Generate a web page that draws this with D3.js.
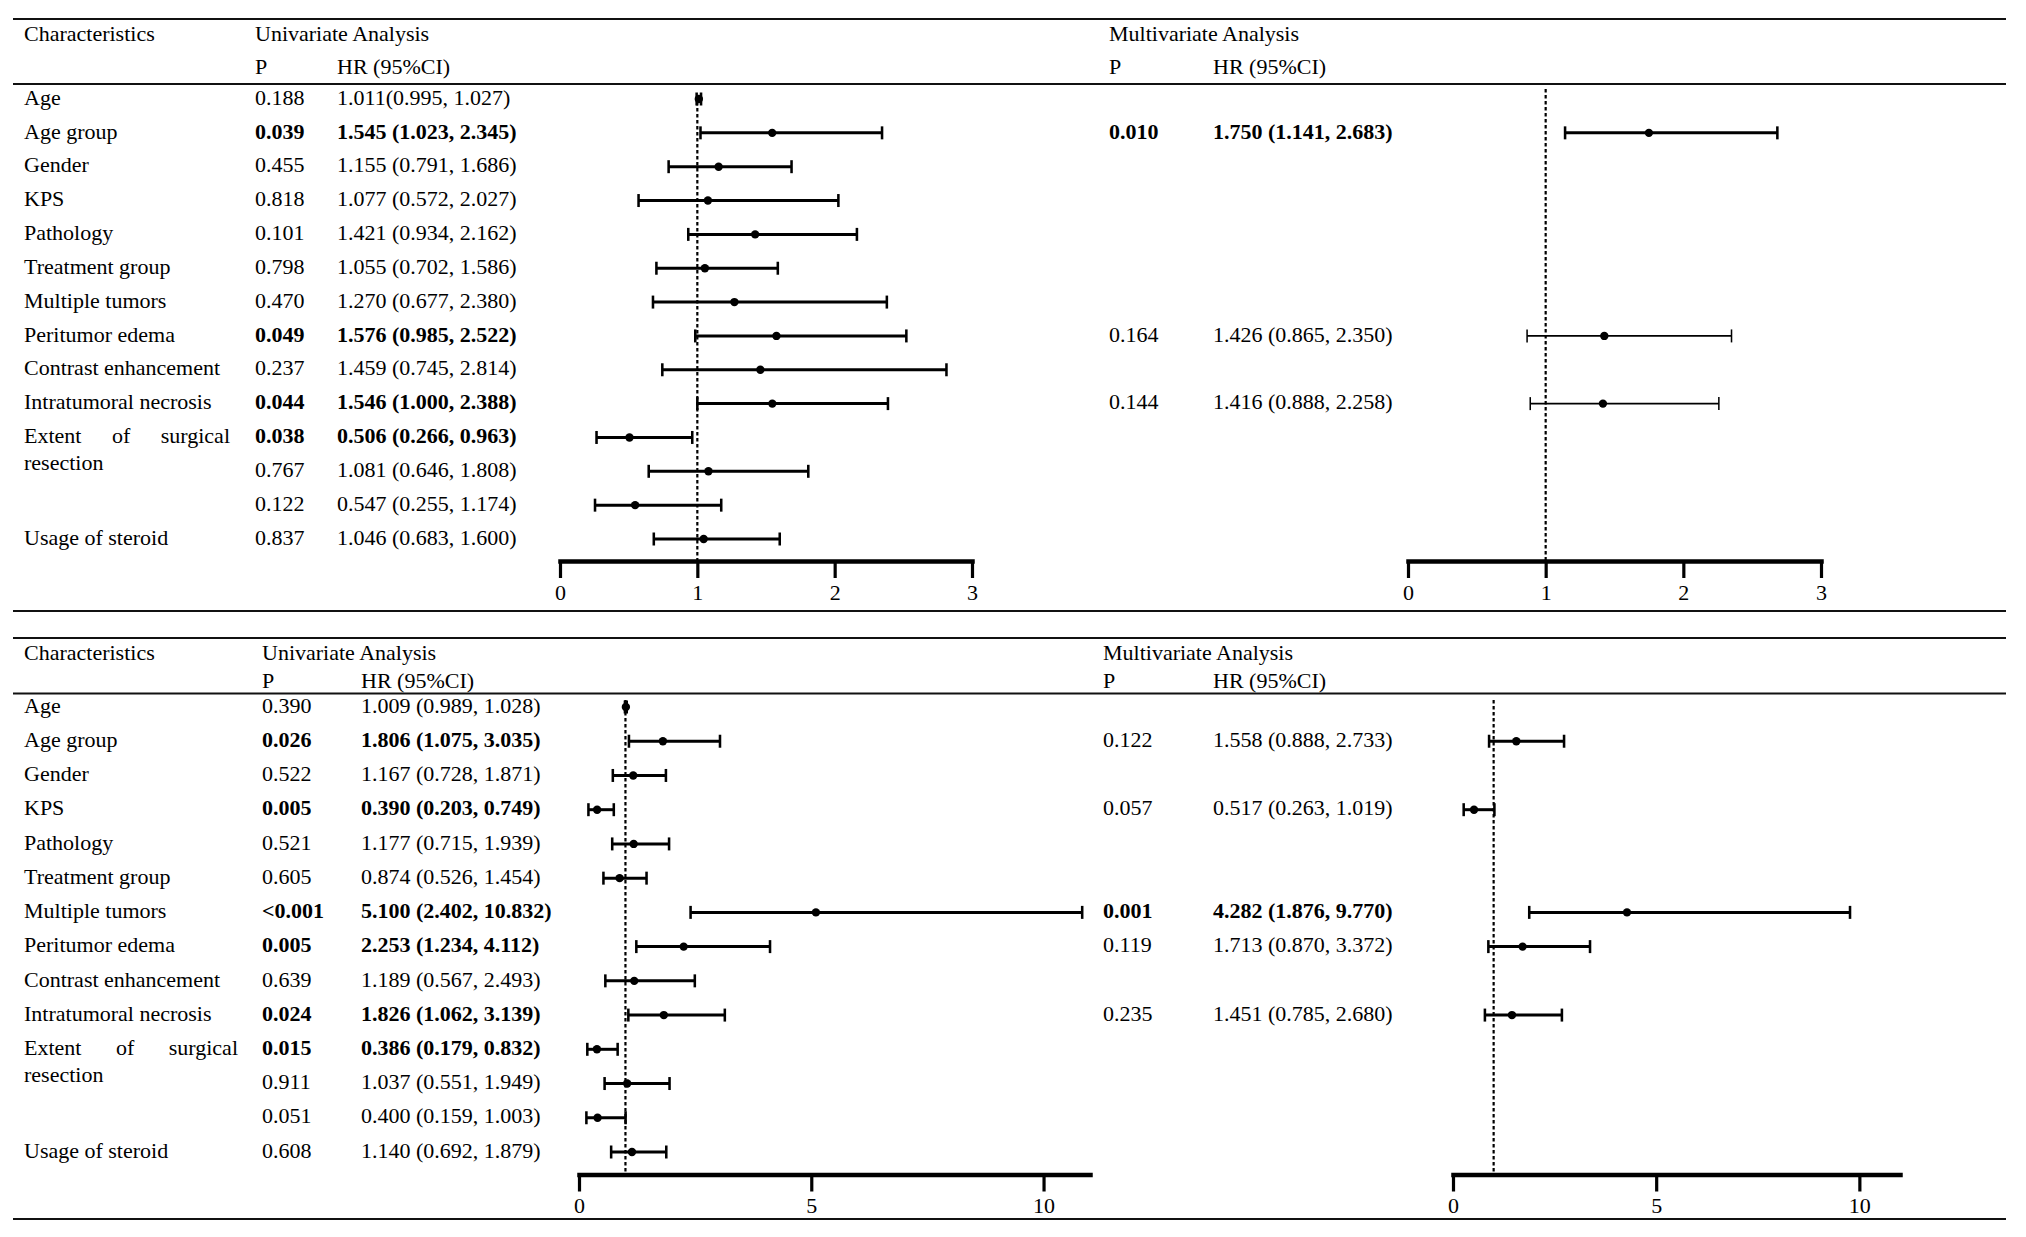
<!DOCTYPE html>
<html>
<head>
<meta charset="utf-8">
<script src="https://cdn.jsdelivr.net/npm/d3@7"></script>
<style>
  body { margin: 0; background: #fff; }
  svg text { font-family: "Liberation Serif", "Times New Roman", serif; fill: #000; }
</style>
</head>
<body>
<div id="chart"></div>
<script>
// ---- data ----
var characteristics = ["Age", "Age group", "Gender", "KPS", "Pathology", "Treatment group",
  "Multiple tumors", "Peritumor edema", "Contrast enhancement", "Intratumoral necrosis",
  "Extent of surgical resection", "", "", "Usage of steroid"];

// top table
var uniP1  = ["0.188", "0.039", "0.455", "0.818", "0.101", "0.798", "0.470", "0.049", "0.237", "0.044", "0.038", "0.767", "0.122", "0.837"];
var uniHR1 = [1.011, 1.545, 1.155, 1.077, 1.421, 1.055, 1.270, 1.576, 1.459, 1.546, 0.506, 1.081, 0.547, 1.046];
var uniLo1 = [0.995, 1.023, 0.791, 0.572, 0.934, 0.702, 0.677, 0.985, 0.745, 1.000, 0.266, 0.646, 0.255, 0.683];
var uniHi1 = [1.027, 2.345, 1.686, 2.027, 2.162, 1.586, 2.380, 2.522, 2.814, 2.388, 0.963, 1.808, 1.174, 1.600];

var mulP1  = [null, "0.010", null, null, null, null, null, "0.164", null, "0.144", null, null, null, null];
var mulHR1 = [null, 1.750, null, null, null, null, null, 1.426, null, 1.416, null, null, null, null];
var mulLo1 = [null, 1.141, null, null, null, null, null, 0.865, null, 0.888, null, null, null, null];
var mulHi1 = [null, 2.683, null, null, null, null, null, 2.350, null, 2.258, null, null, null, null];

// bottom table
var uniP2  = ["0.390", "0.026", "0.522", "0.005", "0.521", "0.605", "<0.001", "0.005", "0.639", "0.024", "0.015", "0.911", "0.051", "0.608"];
var uniHR2 = [1.009, 1.806, 1.167, 0.390, 1.177, 0.874, 5.100, 2.253, 1.189, 1.826, 0.386, 1.037, 0.400, 1.140];
var uniLo2 = [0.989, 1.075, 0.728, 0.203, 0.715, 0.526, 2.402, 1.234, 0.567, 1.062, 0.179, 0.551, 0.159, 0.692];
var uniHi2 = [1.028, 3.035, 1.871, 0.749, 1.939, 1.454, 10.832, 4.112, 2.493, 3.139, 0.832, 1.949, 1.003, 1.879];

var mulP2  = [null, "0.122", null, "0.057", null, null, "0.001", "0.119", null, "0.235", null, null, null, null];
var mulHR2 = [null, 1.558, null, 0.517, null, null, 4.282, 1.713, null, 1.451, null, null, null, null];
var mulLo2 = [null, 0.888, null, 0.263, null, null, 1.876, 0.870, null, 0.785, null, null, null, null];
var mulHi2 = [null, 2.733, null, 1.019, null, null, 9.770, 3.372, null, 2.680, null, null, null, null];

var ticks1 = [0, 1, 2, 3];
var ticks2 = [0, 5, 10];

var W = 2026, H = 1237;
var FONT = 22;
var fmt = d3.format(".3f");

var svg = d3.select("#chart").append("svg")
    .attr("width", W)
    .attr("height", H);

function rows(p, hr, lo, hi) {
    return characteristics.map(function(c, i) {
        return {i: i, p: p[i], hr: hr[i], lo: lo[i], hi: hi[i]};
    });
}

function isSig(p) {
    return p !== null && parseFloat(p.replace("<", "")) < 0.05;
}

function hrText(d, tight) {
    return fmt(d.hr) + (tight ? "" : " ") + "(" + fmt(d.lo) + ", " + fmt(d.hi) + ")";
}

function rule(g, y) {
    g.append("line")
	.attr("x1", 13).attr("x2", 2006)
	.attr("y1", y).attr("y2", y)
	.attr("stroke", "#111")
	.attr("stroke-width", 2.2);
}

// one forest column: texts + whiskers + reference line + axis
function drawForest(parent, data, L, col, opt) {
    var g = parent.append("g").attr("class", "forest");
    var x = d3.scaleLinear().domain(opt.domain).range(col.range);
    var y = L.y;
    var shown = data.filter(function(d) { return d.p !== null; });

    g.selectAll("text.p")
	.data(shown).enter().append("text")
	.attr("class", "p")
	.attr("x", col.px)
	.attr("y", function(d) { return y(d.i) - 2; })
	.attr("dy", "0.35em")
	.attr("font-size", FONT)
	.attr("font-weight", function(d) { return isSig(d.p) ? "bold" : "normal"; })
	.text(function(d) { return d.p; });

    g.selectAll("text.hr")
	.data(shown).enter().append("text")
	.attr("class", "hr")
	.attr("x", col.hrx)
	.attr("y", function(d) { return y(d.i) - 2; })
	.attr("dy", "0.35em")
	.attr("font-size", FONT)
	.attr("font-weight", function(d) { return isSig(d.p) ? "bold" : "normal"; })
	.text(function(d) { return hrText(d, opt.tight && opt.tight.indexOf(d.i) >= 0); });

    // reference line at HR = 1
    g.append("line")
	.attr("x1", x(1)).attr("x2", x(1))
	.attr("y1", col.refTop).attr("y2", L.axisY)
	.attr("stroke", "#000")
	.attr("stroke-width", 2.2)
	.attr("stroke-dasharray", "3.5,2.5");

    var sw = function(d) { return (opt.thin && !isSig(d.p)) ? 1.8 : 3; };
    var mark = g.selectAll("g.ci")
	.data(shown).enter().append("g")
	.attr("class", "ci");

    mark.append("line")
	.attr("x1", function(d) { return x(d.lo); })
	.attr("x2", function(d) { return x(d.hi); })
	.attr("y1", function(d) { return y(d.i); })
	.attr("y2", function(d) { return y(d.i); })
	.attr("stroke", "#000")
	.attr("stroke-width", sw);

    ["lo", "hi"].forEach(function(k) {
	mark.append("line")
	    .attr("x1", function(d) { return x(d[k]); })
	    .attr("x2", function(d) { return x(d[k]); })
	    .attr("y1", function(d) { return y(d.i) - 6.5; })
	    .attr("y2", function(d) { return y(d.i) + 6.5; })
	    .attr("stroke", "#000")
	    .attr("stroke-width", function(d) { return sw(d) * 0.85; });
    });

    mark.append("circle")
	.attr("cx", function(d) { return x(d.hr); })
	.attr("cy", function(d) { return y(d.i); })
	.attr("r", 4.2)
	.attr("fill", "#000");

    var axis = d3.axisBottom(x)
	.tickValues(opt.ticks)
	.tickFormat(d3.format("d"))
	.tickSizeInner(17)
	.tickSizeOuter(0)
	.tickPadding(6);

    var ax = g.append("g")
	.attr("transform", "translate(0," + L.axisY + ")")
	.call(axis);
    ax.select(".domain")
	.attr("stroke", "#000")
	.attr("stroke-width", 4.5)
	.attr("stroke-linecap", "square");
    ax.selectAll(".tick line")
	.attr("stroke", "#000")
	.attr("stroke-width", 3.2);
    ax.selectAll(".tick text")
	.attr("font-family", "Liberation Serif, Times New Roman, serif")
	.attr("font-size", FONT)
	.attr("fill", "#000");
}

function drawPanel(L, uni, mul) {
    var g = svg.append("g").attr("class", "panel");
    L.y = d3.scaleLinear().domain([0, characteristics.length - 1]).range(L.rowRange);

    rule(g, L.top);
    rule(g, L.mid);
    rule(g, L.bottom);

    // headers
    var head = [
	{x: L.labelX, y: L.h1, t: "Characteristics"},
	{x: L.uni.px, y: L.h1, t: "Univariate Analysis"},
	{x: L.uni.px, y: L.h2, t: "P"},
	{x: L.uni.hrx, y: L.h2, t: "HR (95%CI)"},
	{x: L.mul.px, y: L.h1, t: "Multivariate Analysis"},
	{x: L.mul.px, y: L.h2, t: "P"},
	{x: L.mul.hrx, y: L.h2, t: "HR (95%CI)"}
    ];
    g.selectAll("text.head")
	.data(head).enter().append("text")
	.attr("class", "head")
	.attr("x", function(d) { return d.x; })
	.attr("y", function(d) { return d.y; })
	.attr("dy", "0.35em")
	.attr("font-size", FONT)
	.text(function(d) { return d.t; });

    // row labels ("Extent of surgical resection" wraps onto two justified lines)
    characteristics.forEach(function(c, i) {
	if (!c) return;
	var yy = L.y(i) - 2;
	if (c.indexOf("Extent") === 0) {
	    var words = ["Extent", "of", "surgical"];
	    var t = g.selectAll("text.just" + i)
		.data(words).enter().append("text")
		.attr("y", yy).attr("dy", "0.35em")
		.attr("font-size", FONT)
		.text(function(d) { return d; });
	    var widths = t.nodes().map(function(n) { return n.getComputedTextLength(); });
	    var gap = (L.justify - d3.sum(widths)) / (words.length - 1);
	    var pos = L.labelX;
	    t.attr("x", function(d, k) {
		var px = pos;
		pos += widths[k] + gap;
		return px;
	    });
	    g.append("text")
		.attr("x", L.labelX).attr("y", yy + 27).attr("dy", "0.35em")
		.attr("font-size", FONT)
		.text("resection");
	} else {
	    g.append("text")
		.attr("x", L.labelX).attr("y", yy).attr("dy", "0.35em")
		.attr("font-size", FONT)
		.text(c);
	}
    });

    drawForest(g, uni, L, L.uni, L.uniOpt);
    drawForest(g, mul, L, L.mul, L.mulOpt);
}

drawPanel({
    top: 19, mid: 84, bottom: 611,
    h1: 33, h2: 66,
    rowRange: [99, 539],
    axisY: 561,
    labelX: 24, justify: 206,
    uni: {px: 255, hrx: 337, range: [560, 972], refTop: 96},
    mul: {px: 1109, hrx: 1213, range: [1408, 1821], refTop: 89},
    uniOpt: {domain: [0, 3], ticks: ticks1, tight: [0]},
    mulOpt: {domain: [0, 3], ticks: ticks1, thin: true}
}, rows(uniP1, uniHR1, uniLo1, uniHi1), rows(mulP1, mulHR1, mulLo1, mulHi1));

drawPanel({
    top: 638, mid: 693.5, bottom: 1219,
    h1: 652, h2: 680,
    rowRange: [707, 1152],
    axisY: 1174.5,
    labelX: 24, justify: 214,
    uni: {px: 262, hrx: 361, range: [579, 1090], refTop: 700},
    mul: {px: 1103, hrx: 1213, range: [1453, 1900], refTop: 700},
    uniOpt: {domain: [0, 11], ticks: ticks2},
    mulOpt: {domain: [0, 11], ticks: ticks2}
}, rows(uniP2, uniHR2, uniLo2, uniHi2), rows(mulP2, mulHR2, mulLo2, mulHi2));
</script>
</body>
</html>
